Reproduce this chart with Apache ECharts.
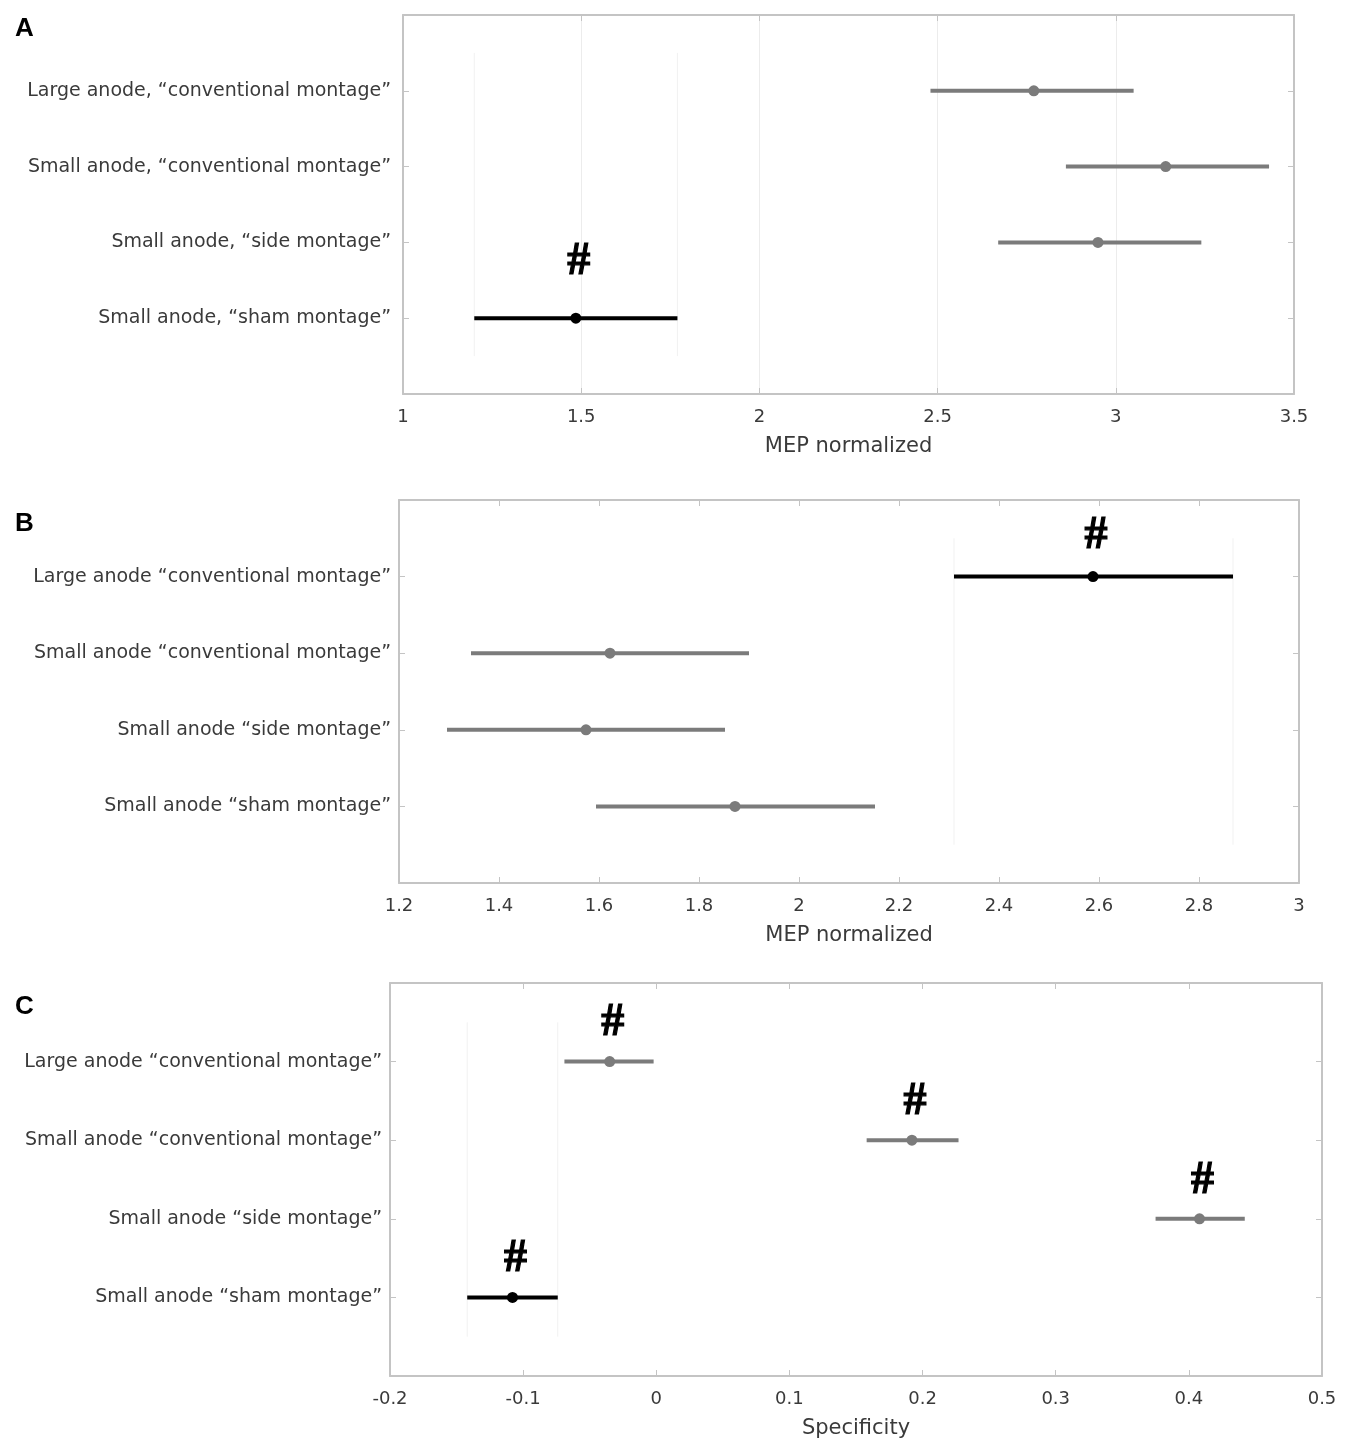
<!DOCTYPE html>
<html>
<head>
<meta charset="utf-8">
<script src="https://cdn.jsdelivr.net/npm/echarts@6/dist/echarts.min.js"></script>
<style>
  html, body { margin: 0; padding: 0; background: #fff; }
  #main { width: 1350px; height: 1448px; }
</style>
</head>
<body>
<div id="main"></div>
<script>
// panel A - MEP normalized
var catsA = ['Large anode, \u201cconventional montage\u201d', 'Small anode, \u201cconventional montage\u201d', 'Small anode, \u201cside montage\u201d', 'Small anode, \u201csham montage\u201d'];
var loA   = [2.48, 2.86, 2.67, 1.20];
var meanA = [2.77, 3.14, 2.95, 1.485];
var hiA   = [3.05, 3.43, 3.24, 1.77];
var sigA  = [0, 0, 0, 1];
var selA  = 3;  // group drawn in black

// panel B - MEP normalized
var catsB = ['Large anode \u201cconventional montage\u201d', 'Small anode \u201cconventional montage\u201d', 'Small anode \u201cside montage\u201d', 'Small anode \u201csham montage\u201d'];
var loB   = [2.31, 1.344, 1.296, 1.594];
var meanB = [2.588, 1.622, 1.574, 1.872];
var hiB   = [2.868, 1.90, 1.852, 2.152];
var sigB  = [1, 0, 0, 0];
var selB  = 0;

// panel C - specificity
var catsC = ['Large anode \u201cconventional montage\u201d', 'Small anode \u201cconventional montage\u201d', 'Small anode \u201cside montage\u201d', 'Small anode \u201csham montage\u201d'];
var loC   = [-0.069, 0.158, 0.375, -0.142];
var meanC = [-0.035, 0.192, 0.408, -0.108];
var hiC   = [-0.002, 0.227, 0.442, -0.074];
var sigC  = [1, 1, 1, 1];
var selC  = 3;

var FONT = '"DejaVu Sans", Verdana, sans-serif';
var BOX = '#c4c4c4';
var TXT = '#3a3a3a';

function buildData(lo, mean, hi, sig, sel) {
    var out = [];
    for (var i = 0; i < lo.length; i++) {
        out.push([lo[i], mean[i], hi[i], i + 1, sig[i], i === sel ? 1 : 0]);
    }
    return out;
}

function makeRender(hashGap) {
    return function (params, api) {
        var y = api.value(3);
        var p0 = api.coord([api.value(0), y]);
        var pm = api.coord([api.value(1), y]);
        var p1 = api.coord([api.value(2), y]);
        var isSel = api.value(5) === 1;
        var col = isSel ? '#000' : '#7b7b7b';
        var kids = [];
        if (isSel) {
            // faint comparison lines of the selected group
            var t0 = api.coord([api.value(0), 0.5]), b0 = api.coord([api.value(0), 4.5]);
            var t1 = api.coord([api.value(2), 0.5]), b1 = api.coord([api.value(2), 4.5]);
            kids.push({ type: 'line', shape: { x1: t0[0], y1: t0[1], x2: b0[0], y2: b0[1] }, style: { stroke: '#f1f1f1', lineWidth: 1 } });
            kids.push({ type: 'line', shape: { x1: t1[0], y1: t1[1], x2: b1[0], y2: b1[1] }, style: { stroke: '#f1f1f1', lineWidth: 1 } });
        }
        kids.push({ type: 'line', shape: { x1: p0[0], y1: p0[1], x2: p1[0], y2: p1[1] }, style: { stroke: col, lineWidth: 4 } });
        kids.push({ type: 'circle', shape: { cx: pm[0], cy: pm[1], r: 5.5 }, style: { fill: col } });
        if (api.value(4) === 1) {
            kids.push({
                type: 'text',
                style: {
                    x: pm[0] + 3, y: pm[1] - hashGap, text: '#',
                    fill: '#000', stroke: '#000', lineWidth: 1.2,
                    font: 'bold 46px "Liberation Serif", "Times New Roman", serif',
                    align: 'center', verticalAlign: 'middle'
                }
            });
        }
        return { type: 'group', children: kids };
    };
}

function xAxes(idx, min, max, interval, name, grid) {
    return [{
        type: 'value', gridIndex: idx, min: min, max: max, interval: interval, position: 'bottom',
        name: name, nameLocation: 'middle', nameGap: 42,
        nameTextStyle: { fontFamily: FONT, fontSize: 21, color: TXT },
        axisLine: { show: true, onZero: false, lineStyle: { color: BOX, width: 2 } },
        axisTick: { show: true, inside: true, length: 6, lineStyle: { color: BOX } },
        axisLabel: { fontFamily: FONT, fontSize: 18, color: TXT, margin: 14 },
        splitLine: { show: grid, lineStyle: { color: '#ececec', width: 1 } }
    }, {
        type: 'value', gridIndex: idx, min: min, max: max, interval: interval, position: 'top',
        axisLine: { show: true, onZero: false, lineStyle: { color: BOX, width: 2 } },
        axisTick: { show: true, inside: true, length: 6, lineStyle: { color: BOX } },
        axisLabel: { show: false },
        splitLine: { show: false }
    }];
}

function yAxes(idx, cats, margin) {
    return [{
        type: 'value', gridIndex: idx, inverse: true, min: 0, max: 5, interval: 1, position: 'left',
        axisLine: { show: true, onZero: false, lineStyle: { color: BOX, width: 2 } },
        axisTick: { show: true, inside: true, length: 6, lineStyle: { color: BOX } },
        axisLabel: {
            fontFamily: FONT, fontSize: 19, color: TXT, margin: margin,
            formatter: function (v) { return cats[v - 1] || ''; }
        },
        splitLine: { show: false }
    }, {
        type: 'value', gridIndex: idx, inverse: true, min: 0, max: 5, interval: 1, position: 'right',
        axisLine: { show: true, onZero: false, lineStyle: { color: BOX, width: 2 } },
        axisTick: { show: true, inside: true, length: 6, lineStyle: { color: BOX } },
        axisLabel: { show: false },
        splitLine: { show: false }
    }];
}

var chart = echarts.init(document.getElementById('main'));

var option = {
    backgroundColor: '#fff',
    animation: false,
    title: [
        { text: 'A', left: 10, top: 11, textStyle: { fontFamily: 'Liberation Sans, Arial, sans-serif', fontSize: 26, fontWeight: 'bold', color: '#000' } },
        { text: 'B', left: 10, top: 506, textStyle: { fontFamily: 'Liberation Sans, Arial, sans-serif', fontSize: 26, fontWeight: 'bold', color: '#000' } },
        { text: 'C', left: 10, top: 989, textStyle: { fontFamily: 'Liberation Sans, Arial, sans-serif', fontSize: 26, fontWeight: 'bold', color: '#000' } }
    ],
    grid: [
        { left: 403, right: 56, top: 15, height: 379 },
        { left: 399, right: 51, top: 500, height: 383 },
        { left: 390, right: 28, top: 983, height: 393 }
    ],
    xAxis: [].concat(
        xAxes(0, 1, 3.5, 0.5, 'MEP normalized', true),
        xAxes(1, 1.2, 3, 0.2, 'MEP normalized', false),
        xAxes(2, -0.2, 0.5, 0.1, 'Specificity', false)
    ),
    yAxis: [].concat(
        yAxes(0, catsA, 12),
        yAxes(1, catsB, 8),
        yAxes(2, catsC, 8)
    ),
    series: [
        { type: 'custom', xAxisIndex: 0, yAxisIndex: 0, renderItem: makeRender(56), data: buildData(loA, meanA, hiA, sigA, selA) },
        { type: 'custom', xAxisIndex: 2, yAxisIndex: 2, renderItem: makeRender(40), data: buildData(loB, meanB, hiB, sigB, selB) },
        { type: 'custom', xAxisIndex: 4, yAxisIndex: 4, renderItem: makeRender(38), data: buildData(loC, meanC, hiC, sigC, selC) }
    ]
};

chart.setOption(option);
</script>
</body>
</html>
